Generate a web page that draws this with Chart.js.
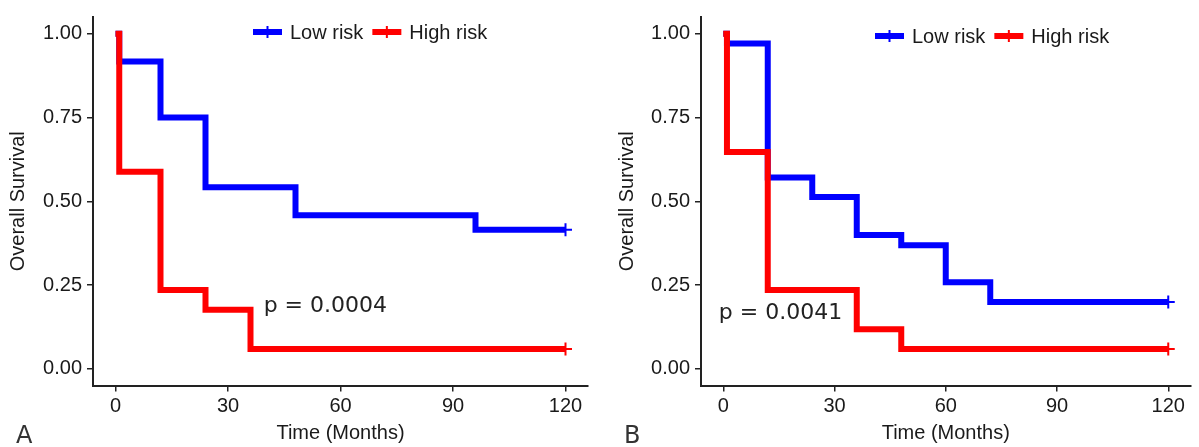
<!DOCTYPE html>
<html>
<head>
<meta charset="utf-8">
<script src="https://cdn.jsdelivr.net/npm/chart.js@4.4.1/dist/chart.umd.min.js"></script>
<style>
  html, body { margin: 0; padding: 0; background: #fff; }
  #wrap { position: relative; width: 1199px; height: 447px; }
  canvas { position: absolute; top: 0; }
</style>
</head>
<body>
<div id="wrap">
  <canvas id="kmA" width="600" height="447" style="left:0"></canvas>
  <canvas id="kmB" width="599" height="447" style="left:600px"></canvas>
</div>
<script>
// Kaplan-Meier curves, two panels (A / B)

const BLUE = '#0000ff';
const RED = '#ff0000';
const AXIS = '#222222';
const TEXT = '#1a1a1a';

const X_TICKS = [0, 30, 60, 90, 120];
const Y_TICKS = [0, 0.25, 0.5, 0.75, 1];

// panel A
const A_LOW_TIME = [0, 1, 12, 24, 48, 96, 120];
const A_LOW_SURV = [1, 0.917, 0.75, 0.542, 0.458, 0.415, 0.415];
const A_HIGH_TIME = [0, 1, 12, 24, 36, 120];
const A_HIGH_SURV = [1, 0.588, 0.235, 0.176, 0.059, 0.059];
const A_PVAL = 'p = 0.0004';

// panel B
const B_LOW_TIME = [0, 1, 12, 24, 36, 48, 60, 72, 120];
const B_LOW_SURV = [1, 0.971, 0.571, 0.513, 0.399, 0.369, 0.258, 0.199, 0.199];
const B_HIGH_TIME = [0, 1, 12, 36, 48, 120];
const B_HIGH_SURV = [1, 0.647, 0.235, 0.118, 0.059, 0.059];
const B_PVAL = 'p = 0.0041';

const LABELS = ['Low risk', 'High risk'];

const tickFont = { family: "'Liberation Sans', Arial, sans-serif", size: 20 };
const titleFont = { family: "'Liberation Sans', Arial, sans-serif", size: 20 };

const toPoints = (t, s) => t.map((v, i) => ({ x: v, y: s[i] }));

function kmDataset(label, color, t, s, order) {
  return {
    label,
    data: toPoints(t, s),
    borderColor: color,
    backgroundColor: color,
    borderWidth: 6,
    stepped: 'before',
    borderCapStyle: 'butt',
    borderJoinStyle: 'miter',
    pointStyle: 'cross',
    pointRadius: ctx => ctx.dataIndex === t.length - 1 ? 6.5 : 0,
    pointBorderWidth: 2,
    pointBorderColor: color,
    pointHoverRadius: 0,
    order
  };
}

// légende + texte p + lettre du panneau, dessinés sur le canvas
const kmDecor = {
  id: 'kmDecor',
  afterDatasetsDraw(chart, args, opts) {
    const { ctx, scales: { x, y } } = chart;
    ctx.save();

    // legend
    let lx = opts.legendX;
    const ly = opts.legendY;
    ctx.font = "20px 'Liberation Sans', Arial, sans-serif";
    ctx.textBaseline = 'middle';
    ctx.textAlign = 'left';
    const items = chart.data.datasets.slice().sort((a, b) => LABELS.indexOf(a.label) - LABELS.indexOf(b.label));
    for (const ds of items) {
      ctx.strokeStyle = ds.borderColor;
      ctx.lineWidth = 6;
      ctx.beginPath(); ctx.moveTo(lx, ly); ctx.lineTo(lx + 29, ly); ctx.stroke();
      ctx.lineWidth = 2;
      ctx.beginPath(); ctx.moveTo(lx + 14.5, ly - 6); ctx.lineTo(lx + 14.5, ly + 6); ctx.stroke();
      ctx.fillStyle = TEXT;
      ctx.fillText(ds.label, lx + 37, ly + 1);
      lx += 37 + ctx.measureText(ds.label).width + 9;
    }

    // p value
    ctx.font = "22px 'DejaVu Sans', sans-serif";
    ctx.fillStyle = '#222';
    ctx.fillText(opts.pText, x.getPixelForValue(opts.pAt[0]), y.getPixelForValue(opts.pAt[1]));

    // panel letter
    ctx.font = "24px 'DejaVu Sans', sans-serif";
    ctx.fillStyle = '#333';
    ctx.textBaseline = 'alphabetic';
    ctx.fillText(opts.letter, opts.letterX, 443);
    ctx.restore();
  }
};

function renderKM(canvas, { low, high, pText, pAt, letter, letterX, legendX, legendY, yWidth, yTitlePad, padRight }) {
  return new Chart(canvas, {
    type: 'line',
    data: {
      datasets: [
        kmDataset('High risk', RED, high[0], high[1], 0),
        kmDataset('Low risk', BLUE, low[0], low[1], 1)
      ]
    },
    options: {
      responsive: false,
      animation: false,
      layout: { padding: { top: 8, right: padRight, bottom: 0, left: 0 } },
      plugins: {
        legend: { display: false },
        tooltip: { enabled: false },
        kmDecor: { pText, pAt, letter, letterX, legendX, legendY }
      },
      scales: {
        x: {
          type: 'linear', min: -6, max: 126,
          afterBuildTicks: s => { s.ticks = X_TICKS.map(v => ({ value: v })); },
          afterFit: s => { s.height = 61.5; },
          grid: { drawOnChartArea: false, tickLength: 6, color: AXIS, lineWidth: 1.5 },
          border: { color: AXIS, width: 2 },
          ticks: { color: TEXT, font: tickFont, padding: 3, maxRotation: 0, autoSkip: false, callback: v => String(v) },
          title: { display: true, text: 'Time (Months)', color: TEXT, font: titleFont, padding: { top: 0, bottom: 2 } }
        },
        y: {
          type: 'linear', min: -0.05, max: 1.05,
          afterBuildTicks: s => { s.ticks = Y_TICKS.map(v => ({ value: v })); },
          afterFit: s => { s.width = yWidth; },
          grid: { drawOnChartArea: false, tickLength: 6, color: AXIS, lineWidth: 1.5 },
          border: { color: AXIS, width: 2 },
          ticks: { color: TEXT, font: tickFont, padding: 5, callback: v => v.toFixed(2) },
          title: { display: true, text: 'Overall Survival', color: TEXT, font: titleFont, padding: { top: yTitlePad, bottom: 0 } }
        }
      }
    },
    plugins: [kmDecor]
  });
}

renderKM(document.getElementById('kmA'), {
  low: [A_LOW_TIME, A_LOW_SURV], high: [A_HIGH_TIME, A_HIGH_SURV],
  pText: A_PVAL, pAt: [39.5, 0.185], letter: 'A', letterX: 16,
  legendX: 253, legendY: 32, yWidth: 93, yTitlePad: 6, padRight: 12
});

renderKM(document.getElementById('kmB'), {
  low: [B_LOW_TIME, B_LOW_SURV], high: [B_HIGH_TIME, B_HIGH_SURV],
  pText: B_PVAL, pAt: [-1.2, 0.165], letter: 'B', letterX: 24,
  legendX: 275, legendY: 36, yWidth: 101, yTitlePad: 15, padRight: 3
});
</script>
</body>
</html>
